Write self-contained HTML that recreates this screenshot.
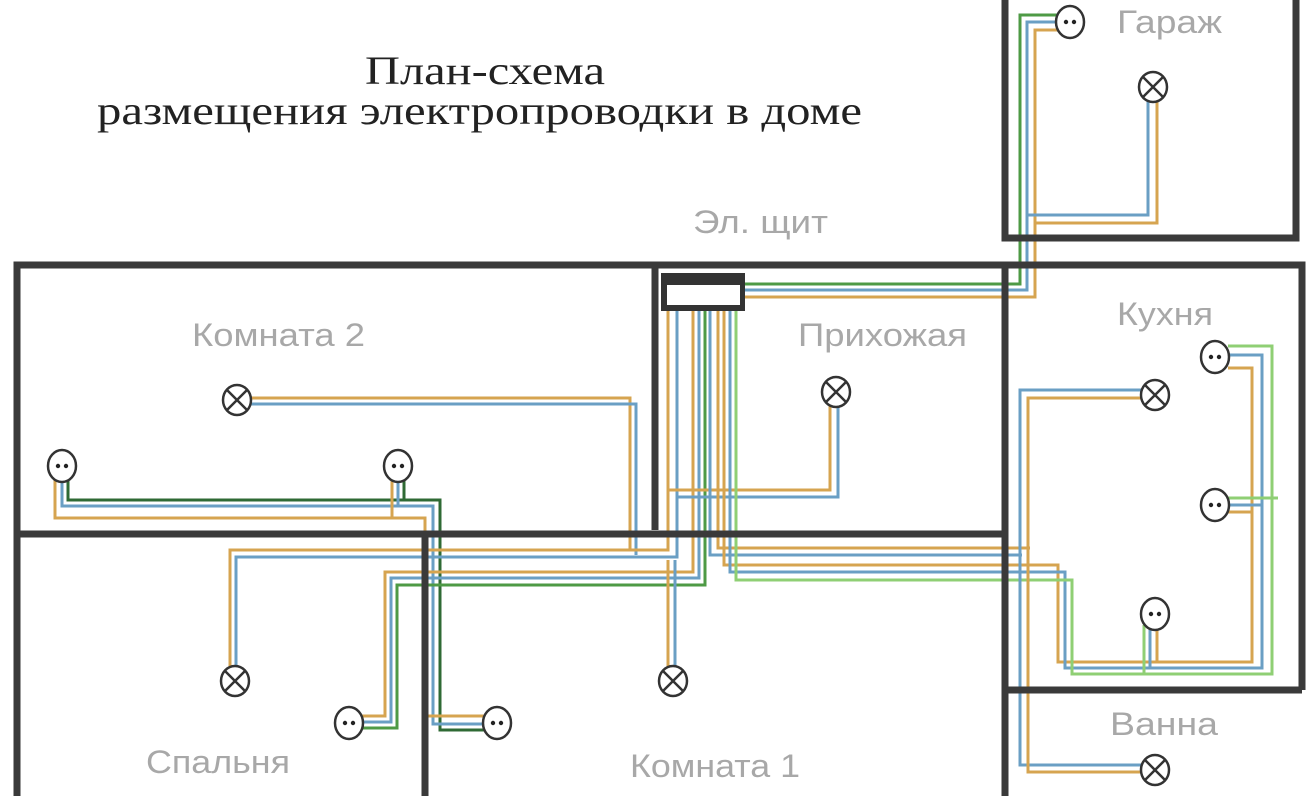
<!DOCTYPE html>
<html><head><meta charset="utf-8"><style>
html,body{margin:0;padding:0;background:#fff;width:1313px;height:796px;overflow:hidden}
svg{display:block}
.l{font-family:"Liberation Sans",sans-serif;font-size:32px;fill:#a8a8a8}
.t{font-family:"Liberation Serif",serif;font-size:40px;fill:#222}
.w{stroke:#3a3a3a;stroke-width:7;fill:none}
.o{stroke:#d6a450;stroke-width:3;fill:none}
.b{stroke:#6a9fc4;stroke-width:3;fill:none}
.g{stroke:#4e9a45;stroke-width:3;fill:none}
.lg{stroke:#8fcf74;stroke-width:3;fill:none}
.dg{stroke:#2f6a34;stroke-width:3;fill:none}
</style></head><body>
<svg width="1313" height="796" viewBox="0 0 1313 796">
<defs>
<g id="lamp"><ellipse cx="0" cy="0" rx="14" ry="15" fill="#fff" stroke="#333" stroke-width="2.5"/><path d="M-10,-10L10,10M10,-10L-10,10" stroke="#333" stroke-width="2.5"/></g>
<g id="sock"><ellipse cx="0" cy="0" rx="14" ry="16" fill="#fff" stroke="#333" stroke-width="2.5"/><circle cx="-4" cy="0" r="2.2" fill="#222"/><circle cx="4" cy="0" r="2.2" fill="#222"/></g>
</defs>
<text class="t" x="365" y="84" textLength="240" lengthAdjust="spacingAndGlyphs">План-схема</text>
<text class="t" x="97" y="124" textLength="765" lengthAdjust="spacingAndGlyphs">размещения электропроводки в доме</text>

<polyline class="g" points="745,284 1020,284 1020,15 1065,15"/>
<polyline class="b" points="745,290 1027,290 1027,22 1060,22"/>
<polyline class="o" points="745,297 1035,297 1035,30 1065,30"/>
<polyline class="b" points="1148,95 1148,215 1027,215"/>
<polyline class="o" points="1157,95 1157,223 1035,223"/>
<polyline class="o" points="250,398 630,398 630,550"/>
<polyline class="b" points="250,404 636,404 636,555"/>
<polyline class="dg" points="68,478 68,500 440,500 440,730 485,730"/>
<polyline class="b" points="62,478 62,506 433,506 433,724 485,724"/>
<polyline class="o" points="55,478 55,518 425,518 425,716 485,716"/>
<polyline class="dg" points="404,478 404,500"/><polyline class="b" points="398,478 398,506"/><polyline class="o" points="392,478 392,518"/>
<polyline class="o" points="230,668 230,550 668,550 668,310"/>
<polyline class="b" points="236,668 236,557 677,557 677,310"/>
<polyline class="o" points="362,716 385,716 385,572 693,572 693,310"/>
<polyline class="b" points="362,722 391,722 391,578 699,578 699,310"/>
<polyline class="g" points="362,728 397,728 397,585 705,585 705,310"/>
<polyline class="o" points="668,668 668,560"/>
<polyline class="b" points="675,668 675,560"/>
<polyline class="o" points="830,404 830,490 668,490"/>
<polyline class="b" points="838,404 838,497 677,497"/>
<polyline class="o" points="718,310 718,548 1030,548"/>
<polyline class="b" points="710,310 710,555 1022,555"/>
<polyline class="o" points="724,310 724,565 1058,565 1058,662 1252,662 1252,368 1228,368"/>
<polyline class="b" points="730,310 730,572 1065,572 1065,668 1262,668 1262,355 1228,355"/>
<polyline class="lg" points="736,310 736,580 1072,580 1072,674 1272,674 1272,346 1228,346"/>
<polyline class="lg" points="1228,498 1278,498"/><polyline class="b" points="1228,505 1262,505"/><polyline class="o" points="1228,512 1252,512"/>
<polyline class="lg" points="1144,625 1144,674"/><polyline class="b" points="1150,625 1150,668"/><polyline class="o" points="1157,625 1157,662"/>
<polyline class="b" points="1142,390 1020,390 1020,765 1142,765"/>
<polyline class="o" points="1142,398 1028,398 1028,772 1142,772"/>

<path class="w" d="M17,796V265H1302V690M1005,0V238H1296V0M655,265V530M17,534H1005M425,534V796M1005,265V796M1005,690H1302"/>
<rect x="661" y="273" width="84" height="38" fill="#333"/>
<rect x="667" y="285" width="73" height="20" fill="#fff"/>

<use href="#lamp" x="237" y="400"/>
<use href="#lamp" x="836" y="392"/>
<use href="#lamp" x="235" y="681"/>
<use href="#lamp" x="673" y="681"/>
<use href="#lamp" x="1155" y="395"/>
<use href="#lamp" x="1153" y="87"/>
<use href="#lamp" x="1155" y="770"/>
<use href="#sock" x="62" y="466"/>
<use href="#sock" x="398" y="466"/>
<use href="#sock" x="349" y="723"/>
<use href="#sock" x="497" y="723"/>
<use href="#sock" x="1070" y="22"/>
<use href="#sock" x="1215" y="357"/>
<use href="#sock" x="1215" y="505"/>
<use href="#sock" x="1155" y="614"/>

<text class="l" x="693" y="233" textLength="135" lengthAdjust="spacingAndGlyphs">Эл. щит</text>
<text class="l" x="192" y="346" textLength="173" lengthAdjust="spacingAndGlyphs">Комната 2</text>
<text class="l" x="798" y="346" textLength="169" lengthAdjust="spacingAndGlyphs">Прихожая</text>
<text class="l" x="1117" y="325" textLength="96" lengthAdjust="spacingAndGlyphs">Кухня</text>
<text class="l" x="1117" y="33" textLength="105" lengthAdjust="spacingAndGlyphs">Гараж</text>
<text class="l" x="1110" y="735" textLength="108" lengthAdjust="spacingAndGlyphs">Ванна</text>
<text class="l" x="146" y="773" textLength="144" lengthAdjust="spacingAndGlyphs">Спальня</text>
<text class="l" x="630" y="777" textLength="170" lengthAdjust="spacingAndGlyphs">Комната 1</text>
</svg>
</body></html>
